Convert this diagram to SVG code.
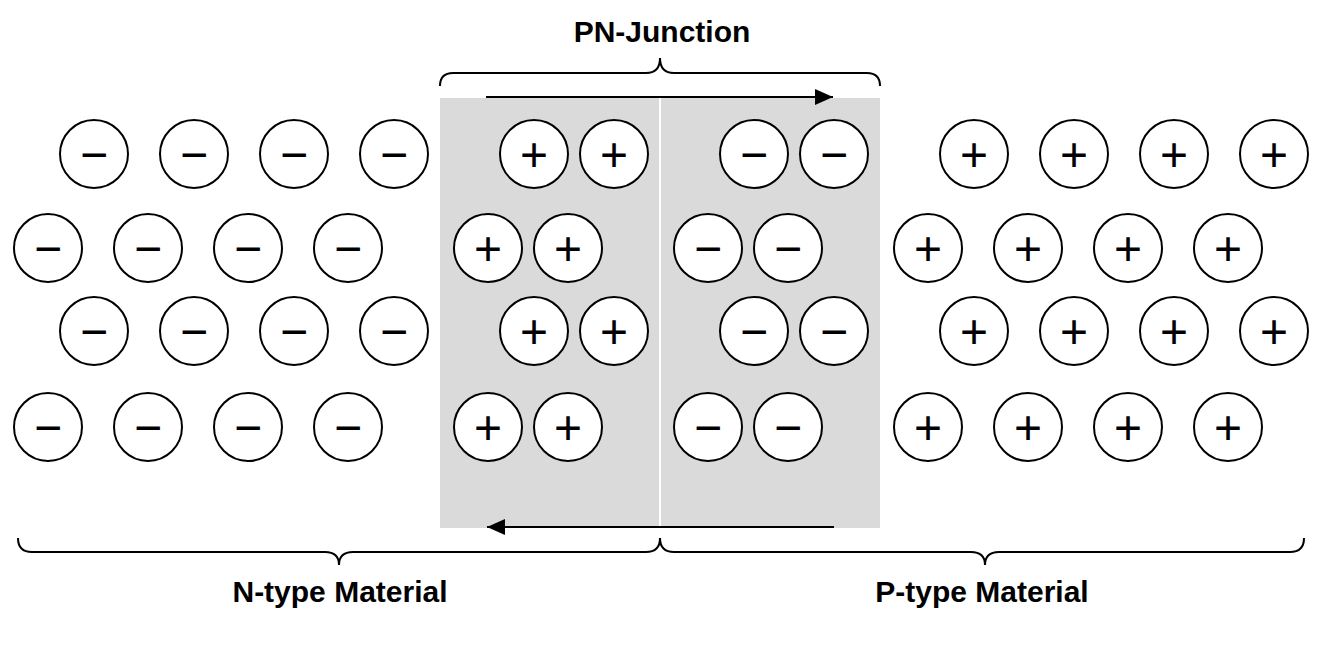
<svg xmlns="http://www.w3.org/2000/svg" width="1323" height="650" viewBox="0 0 1323 650">
<style>
.c{fill:#fff;stroke:#000;stroke-width:2}
.s{font-family:"Liberation Sans",Arial,sans-serif;font-size:48px;text-anchor:middle;fill:#000}
.lbl{font-family:"Liberation Sans",Arial,sans-serif;font-size:30px;font-weight:bold;text-anchor:middle;fill:#000}
.br{fill:none;stroke:#000;stroke-width:2}
.ar{fill:none;stroke:#000;stroke-width:2}
</style>
<defs>
<marker id="ah" markerUnits="userSpaceOnUse" markerWidth="20" markerHeight="18" refX="18" refY="8" orient="auto">
<path d="M0,0 L18,8 L0,16 Z" fill="#000"/>
</marker>
<g id="neg"><circle class="c" r="34"/><text class="s" y="17">−</text></g>
<g id="pos"><circle class="c" r="34"/><text class="s" y="17">+</text></g>
</defs>
<g id="depletion">
<rect x="440" y="98" width="440" height="430" fill="#dadada"/>
<rect x="659" y="98" width="2" height="430" fill="#fff"/>
</g>
<g id="n-region">
<use href="#neg" x="94" y="154"/><use href="#neg" x="194" y="154"/><use href="#neg" x="294" y="154"/><use href="#neg" x="394" y="154"/>
<use href="#neg" x="48" y="248"/><use href="#neg" x="148" y="248"/><use href="#neg" x="248" y="248"/><use href="#neg" x="348" y="248"/>
<use href="#neg" x="94" y="331"/><use href="#neg" x="194" y="331"/><use href="#neg" x="294" y="331"/><use href="#neg" x="394" y="331"/>
<use href="#neg" x="48" y="427"/><use href="#neg" x="148" y="427"/><use href="#neg" x="248" y="427"/><use href="#neg" x="348" y="427"/>
</g>
<g id="n-depletion">
<use href="#pos" x="534" y="154"/><use href="#pos" x="614" y="154"/>
<use href="#pos" x="488" y="248"/><use href="#pos" x="568" y="248"/>
<use href="#pos" x="534" y="331"/><use href="#pos" x="614" y="331"/>
<use href="#pos" x="488" y="427"/><use href="#pos" x="568" y="427"/>
</g>
<g id="p-depletion">
<use href="#neg" x="754" y="154"/><use href="#neg" x="834" y="154"/>
<use href="#neg" x="708" y="248"/><use href="#neg" x="788" y="248"/>
<use href="#neg" x="754" y="331"/><use href="#neg" x="834" y="331"/>
<use href="#neg" x="708" y="427"/><use href="#neg" x="788" y="427"/>
</g>
<g id="p-region">
<use href="#pos" x="974" y="154"/><use href="#pos" x="1074" y="154"/><use href="#pos" x="1174" y="154"/><use href="#pos" x="1274" y="154"/>
<use href="#pos" x="928" y="248"/><use href="#pos" x="1028" y="248"/><use href="#pos" x="1128" y="248"/><use href="#pos" x="1228" y="248"/>
<use href="#pos" x="974" y="331"/><use href="#pos" x="1074" y="331"/><use href="#pos" x="1174" y="331"/><use href="#pos" x="1274" y="331"/>
<use href="#pos" x="928" y="427"/><use href="#pos" x="1028" y="427"/><use href="#pos" x="1128" y="427"/><use href="#pos" x="1228" y="427"/>
</g>
<g id="connectors">
<line class="ar" x1="486" y1="97" x2="833" y2="97" marker-end="url(#ah)"/>
<line class="ar" x1="834" y1="527" x2="487" y2="527" marker-end="url(#ah)"/>
</g>
<g id="braces">
<path class="br" d="M440,86 Q440,73 453,73 L646,73 Q660,73 660,58 Q660,73 674,73 L867,73 Q880,73 880,86"/>
<path class="br" d="M18,538 Q18,552 32,552 L325,552 Q339,552 339,565 Q339,552 353,552 L646,552 Q660,552 660,538"/>
<path class="br" d="M660,538 Q660,552 674,552 L971,552 Q985,552 985,565 Q985,552 999,552 L1290,552 Q1304,552 1304,538"/>
</g>
<g id="labels">
<text class="lbl" x="662" y="42">PN-Junction</text>
<text class="lbl" x="340" y="602">N-type Material</text>
<text class="lbl" x="982" y="602">P-type Material</text>
</g>
</svg>
